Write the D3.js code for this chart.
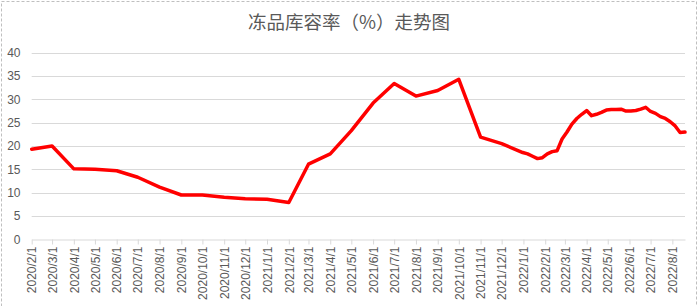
<!DOCTYPE html>
<html>
<head>
<meta charset="utf-8">
<script src="https://cdn.jsdelivr.net/npm/d3@7"></script>
<style>
  body { margin: 0; background: #fff; }
  svg { display: block; }
  text { font-family: "Liberation Sans", Arial, sans-serif; fill: #595959; }
</style>
</head>
<body>
<svg id="chart"></svg>
<script>
// dates of each reading (monthly to Dec 2021, weekly after)
const dates = [
  "2020-02-01","2020-03-01","2020-04-01","2020-05-01","2020-06-01","2020-07-01",
  "2020-08-01","2020-09-01","2020-10-01","2020-11-01","2020-12-01","2021-01-01",
  "2021-02-01","2021-03-01","2021-04-01","2021-05-01","2021-06-01","2021-07-01",
  "2021-08-01","2021-09-01","2021-10-01","2021-11-01","2021-12-01",
  "2021-12-31","2022-01-07","2022-01-14","2022-01-21","2022-01-28","2022-02-04",
  "2022-02-11","2022-02-18","2022-02-25","2022-03-04","2022-03-11","2022-03-18",
  "2022-03-25","2022-04-01","2022-04-08","2022-04-15","2022-04-22","2022-04-29",
  "2022-05-06","2022-05-13","2022-05-20","2022-05-27","2022-06-03","2022-06-10",
  "2022-06-17","2022-06-24","2022-07-01","2022-07-08","2022-07-15","2022-07-22",
  "2022-07-29","2022-08-05","2022-08-12","2022-08-19"
];
const rates = [
  19.3, 20.0, 15.1, 15.0, 14.7, 13.3,
  11.2, 9.5, 9.5, 9.0, 8.7, 8.6,
  7.9, 16.1, 18.3, 23.3, 29.2, 33.4,
  30.7, 31.9, 34.3, 21.9, 20.5,
  18.6, 18.3, 17.8, 17.3, 17.5, 18.3,
  18.8, 19.0, 21.5, 23.0, 24.7, 25.9,
  26.8, 27.6, 26.5, 26.8, 27.2, 27.7,
  27.8, 27.8, 27.9, 27.5, 27.5, 27.6,
  27.9, 28.3, 27.4, 27.0, 26.3, 25.9,
  25.2, 24.3, 22.9, 23.0
];
const yTicks = [0, 5, 10, 15, 20, 25, 30, 35, 40];
const title = "冻品库容率（%）走势图";

const width = 699, height = 306;
const margin = {top: 52.7, right: 14, bottom: 66.7, left: 31.7};

const parse = d3.timeParse("%Y-%m-%d");
const data = dates.map((d, i) => ({date: parse(d), value: rates[i]}));

const svg = d3.select("#chart")
    .attr("width", width)
    .attr("height", height);

// dashed chart-area border (bottom edge is out of view)
svg.append("rect")
    .attr("x", 1.5).attr("y", 1.5)
    .attr("width", 695).attr("height", 330)
    .attr("fill", "none")
    .attr("stroke", "#bfbfbf")
    .attr("stroke-dasharray", "3,2");

const xScale = d3.scaleTime()
    .domain(d3.extent(data, d => d.date))
    .range([margin.left, width - margin.right]);

const yScale = d3.scaleLinear()
    .domain([0, 40])
    .range([height - margin.bottom, margin.top]);

// title
svg.append("text")
    .attr("x", 349)
    .attr("y", 29)
    .attr("text-anchor", "middle")
    .style("font-family", "'Noto Sans CJK SC', sans-serif")
    .style("font-size", "18.5px")
    .text(title);

// gridlines
svg.append("g")
    .selectAll("line")
    .data(yTicks.filter(d => d > 0))
    .join("line")
    .attr("x1", margin.left)
    .attr("x2", width - margin.right)
    .attr("y1", d => Math.round(yScale(d)) + 0.5)
    .attr("y2", d => Math.round(yScale(d)) + 0.5)
    .attr("stroke", "#d9d9d9")
    .attr("stroke-width", 1);

// y labels
svg.append("g")
    .selectAll("text")
    .data(yTicks)
    .join("text")
    .attr("x", 20.5)
    .attr("y", d => yScale(d))
    .attr("dy", "0.35em")
    .attr("text-anchor", "end")
    .style("font-size", "12px")
    .text(d => d);

// x axis with monthly ticks
const months = d3.timeMonth.range(parse("2020-02-01"), parse("2022-08-02"));
const xAxis = svg.append("g")
    .attr("transform", `translate(0, ${Math.round(yScale(0)) + 0.5})`)
    .call(d3.axisBottom(xScale)
        .tickValues(months)
        .tickFormat(d3.timeFormat("%Y/%-m/%-d"))
        .tickSize(5)
        .tickSizeOuter(0));

xAxis.select(".domain").attr("stroke", "#d9d9d9");
xAxis.selectAll(".tick line").attr("stroke", "#d9d9d9");
xAxis.selectAll(".tick text")
    .attr("transform", "rotate(-90)")
    .attr("x", -7)
    .attr("y", 0)
    .attr("dy", "0.35em")
    .attr("text-anchor", "end")
    .style("font-size", "12px")
    .style("font-family", "'Liberation Sans', Arial, sans-serif")
    .attr("fill", "#595959");

// the line
const line = d3.line()
    .x(d => xScale(d.date))
    .y(d => yScale(d.value));

svg.append("path")
    .datum(data)
    .attr("fill", "none")
    .attr("stroke", "#ff0000")
    .attr("stroke-width", 3.5)
    .attr("stroke-linejoin", "round")
    .attr("stroke-linecap", "round")
    .attr("d", line);
</script>
</body>
</html>
